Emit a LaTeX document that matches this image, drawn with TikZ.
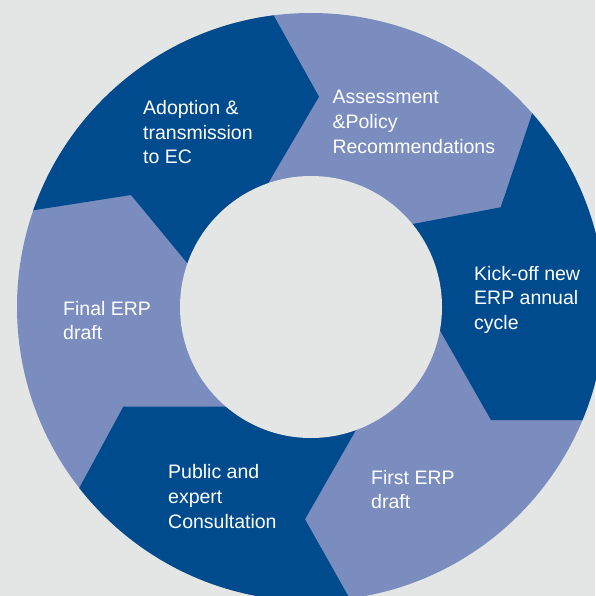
\documentclass[tikz,border=0pt]{standalone}
\usepackage{fontspec}
\setmainfont{Liberation Sans}
\definecolor{bgc}{RGB}{227,230,229}
\definecolor{darkb}{RGB}{0,75,141}
\definecolor{lightb}{RGB}{122,141,190}
\begin{document}
\begin{tikzpicture}[x=1pt,y=-1pt,
  lbl/.style={anchor=base west,align=left,inner sep=0pt,text=white,
    font={\fontsize{19.5}{24.8}\selectfont}},
  darkseg/.style={fill=darkb,draw=none}]
\useasboundingbox (0,0) rectangle (595,596);
\fill[bgc] (0,0) rectangle (595,596);
\coordinate (c) at (311,307);
\fill[lightb] (c) circle[radius=294pt];
\begin{scope}
\clip (c) circle[radius=294pt];
% Adoption (between B6 and B1)
\fill[darkseg] (-253,255) -- (131,195) -- (205.1,284.7) -- (253,209) -- (319,96.7) -- (139,-226) -- (-300,-300) -- cycle;
% Kick-off (between B2 and B3)
\fill[darkseg] (624.7,-161.9) -- (500.7,207.3) -- (386.3,229) -- (425.6,305.2) -- (491,420) -- (867,420) -- (900,-200) -- cycle;
% Public (between B4 and B5)
\fill[darkseg] (478,826) -- (305,519.3) -- (370,405.4) -- (259.4,406.7) -- (123.3,406.7) -- (-50,726.7) -- (-50,1000) -- (600,1000) -- cycle;
\end{scope}
\fill[bgc] (c) circle[radius=131pt];
% anchors are on the baseline of the last line
\node[lbl] (adopt) at (143,163.9) {Adoption \&\\transmission\\to EC};
\node[lbl] (assess) at (332.3,153.6) {Assessment\\\&Policy\\Recommendations};
\node[lbl] (kick) at (474,329.6) {Kick-off new\\ERP annual\\cycle};
\node[lbl] (first) at (371,508.8) {First ERP\\draft};
\node[lbl] (public) at (168,528.3) {Public and\\expert\\Consultation};
\node[lbl] (final) at (63,339.8) {Final ERP\\draft};
\end{tikzpicture}
\end{document}
